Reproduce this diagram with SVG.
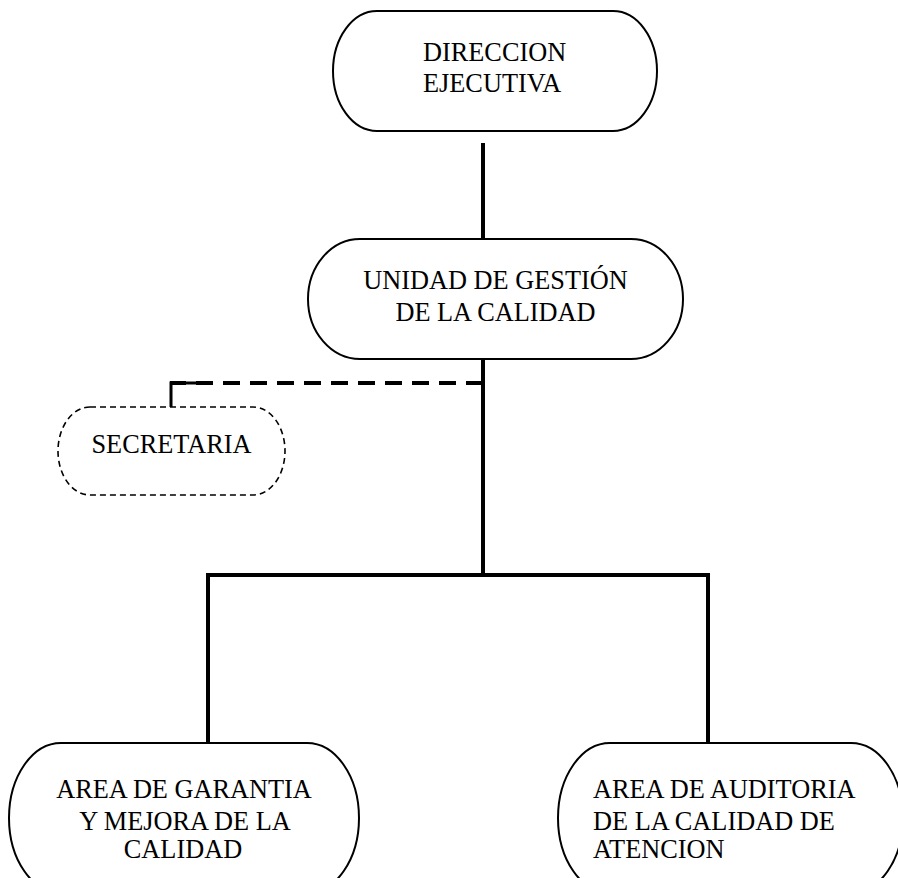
<svg xmlns="http://www.w3.org/2000/svg" width="898" height="878" viewBox="0 0 898 878">
<style>
.box{fill:#fff;stroke:#000;stroke-width:2}
.dbox{fill:#fff;stroke:#000;stroke-width:1.6;stroke-dasharray:6 4}
text{font-family:'Liberation Serif','Times New Roman','DejaVu Serif',serif;font-size:26.3px;fill:#000}
.c{text-anchor:middle}
.ln{stroke:#000;stroke-width:4;fill:none}
.dl{stroke:#000;stroke-width:4;fill:none;stroke-dasharray:17 10}
</style>
<rect width="898" height="878" fill="#fff"/>
<g id="connectors">
<line class="ln" x1="483" y1="143" x2="483" y2="239"/>
<line class="ln" x1="483" y1="359" x2="483" y2="577"/>
<polyline class="ln" points="208,743 208,575 708,575 708,743"/>
<line class="dl" x1="483" y1="383" x2="170" y2="383"/>
<polyline fill="none" stroke="#000" stroke-width="3" points="200,383 171,383 171,407"/>
</g>
<g id="direccion">
<rect class="box" x="333" y="11" width="324" height="120" rx="44" ry="60"/>
<text font-family="Liberation Serif, serif" x="423" y="61">DIRECCION</text>
<text font-family="Liberation Serif, serif" x="423" y="92">EJECUTIVA</text>
</g>
<g id="unidad">
<rect class="box" x="308" y="239" width="375" height="120" rx="52" ry="60"/>
<text class="c" font-family="Liberation Serif, serif" x="495.5" y="289">UNIDAD DE GESTIÓN</text>
<text class="c" font-family="Liberation Serif, serif" x="495.5" y="321">DE LA CALIDAD</text>
</g>
<g id="secretaria">
<rect class="dbox" x="58" y="407" width="227" height="88" rx="32" ry="44"/>
<text class="c" font-family="Liberation Serif, serif" x="171.5" y="453">SECRETARIA</text>
</g>
<g id="garantia">
<rect class="box" x="9" y="743" width="350" height="150" rx="52" ry="75"/>
<text class="c" font-family="Liberation Serif, serif" x="184" y="798">AREA DE GARANTIA</text>
<text class="c" font-family="Liberation Serif, serif" x="185" y="830">Y MEJORA DE LA</text>
<text class="c" font-family="Liberation Serif, serif" x="183" y="858">CALIDAD</text>
</g>
<g id="auditoria">
<rect class="box" x="558" y="743" width="345" height="150" rx="52" ry="75"/>
<text font-family="Liberation Serif, serif" x="593" y="798">AREA DE AUDITORIA</text>
<text font-family="Liberation Serif, serif" x="593" y="830">DE LA CALIDAD DE</text>
<text font-family="Liberation Serif, serif" x="593" y="858">ATENCION</text>
</g>
</svg>
